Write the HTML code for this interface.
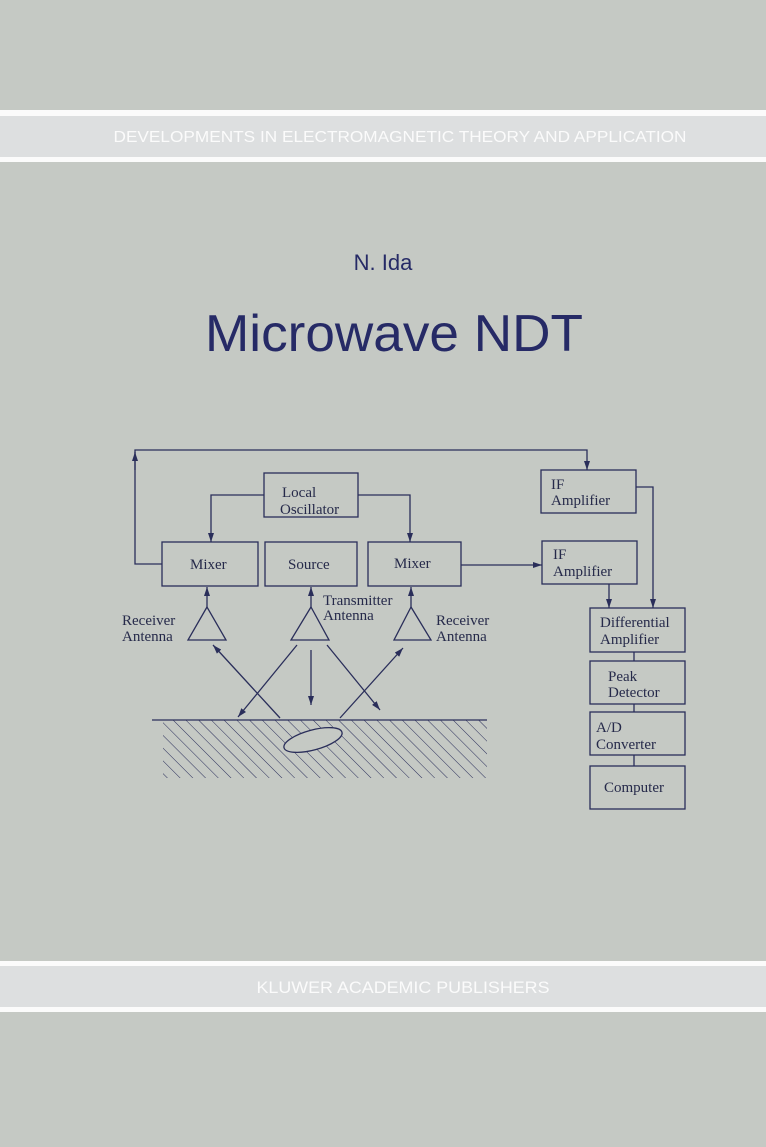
<!DOCTYPE html>
<html><head><meta charset="utf-8"><style>
html,body{margin:0;padding:0;background:#c5c9c4;}
svg{display:block}
</style></head><body>
<svg width="766" height="1147" viewBox="0 0 766 1147" xmlns="http://www.w3.org/2000/svg">
<defs>
<marker id="a" markerWidth="10" markerHeight="8" refX="9" refY="4" orient="auto" markerUnits="userSpaceOnUse"><path d="M0,1 L9,4 L0,7 z" fill="#2a2e5a"/></marker>
<pattern id="h" width="9" height="9" patternUnits="userSpaceOnUse" patternTransform="rotate(-45)"><line x1="0" y1="0" x2="0" y2="9" stroke="#2a2e5a" stroke-width="1"/></pattern>
<clipPath id="c"><rect x="163" y="720" width="324" height="58"/></clipPath>
</defs>
<rect width="766" height="1147" fill="#c5c9c4"/>
<rect x="0" y="110" width="766" height="52" fill="#fbfbfb"/>
<rect x="0" y="116" width="766" height="41" fill="#dddfe0"/>
<text x="400" y="142" font-family="Liberation Sans, sans-serif" font-size="16" fill="#fbfbfb" text-anchor="middle" textLength="573" lengthAdjust="spacingAndGlyphs">DEVELOPMENTS IN ELECTROMAGNETIC THEORY AND APPLICATION</text>
<rect x="0" y="961" width="766" height="51" fill="#fbfbfb"/>
<rect x="0" y="966" width="766" height="41" fill="#dddfe0"/>
<text x="403" y="993" font-family="Liberation Sans, sans-serif" font-size="17" fill="#fbfbfb" text-anchor="middle" textLength="293" lengthAdjust="spacingAndGlyphs">KLUWER ACADEMIC PUBLISHERS</text>
<text x="383" y="270" font-family="Liberation Sans, sans-serif" font-size="22" fill="#262a66" text-anchor="middle">N. Ida</text>
<text x="394" y="351" font-family="Liberation Sans, sans-serif" font-size="52" fill="#262a66" text-anchor="middle" textLength="378" lengthAdjust="spacingAndGlyphs">Microwave NDT</text>
<g stroke="#2a2e5a" stroke-width="1.3" fill="none">
<rect x="264" y="473" width="94" height="44"/>
<rect x="162" y="542" width="96" height="44"/>
<rect x="265" y="542" width="92" height="44"/>
<rect x="368" y="542" width="93" height="44"/>
<rect x="541" y="470" width="95" height="43"/>
<rect x="542" y="541" width="95" height="43"/>
<rect x="590" y="608" width="95" height="44"/>
<rect x="590" y="661" width="95" height="43"/>
<rect x="590" y="712" width="95" height="43"/>
<rect x="590" y="766" width="95" height="43"/>
<polyline points="162,564 135,564 135,450 587,450 587,470" marker-end="url(#a)"/>
<line x1="135" y1="470" x2="135" y2="452" marker-end="url(#a)"/>
<polyline points="264,495 211,495 211,542" marker-end="url(#a)"/>
<polyline points="358,495 410,495 410,542" marker-end="url(#a)"/>
<line x1="461" y1="565" x2="542" y2="565" marker-end="url(#a)"/>
<polyline points="636,487 653,487 653,608" marker-end="url(#a)"/>
<line x1="609" y1="584" x2="609" y2="608" marker-end="url(#a)"/>
<line x1="634" y1="652" x2="634" y2="661"/><line x1="634" y1="704" x2="634" y2="712"/><line x1="634" y1="755" x2="634" y2="766"/>
<polygon points="207,607 188,640 226,640"/>
<polygon points="311,607 291,640 329,640"/>
<polygon points="411,607 394,640 431,640"/>
<line x1="207" y1="607" x2="207" y2="587" marker-end="url(#a)"/>
<line x1="311" y1="607" x2="311" y2="587" marker-end="url(#a)"/>
<line x1="411" y1="607" x2="411" y2="587" marker-end="url(#a)"/>
<line x1="280" y1="718" x2="213" y2="645" marker-end="url(#a)"/>
<line x1="297" y1="645" x2="238" y2="717" marker-end="url(#a)"/>
<line x1="311" y1="650" x2="311" y2="705" marker-end="url(#a)"/>
<line x1="327" y1="645" x2="380" y2="710" marker-end="url(#a)"/>
<line x1="340" y1="718" x2="403" y2="648" marker-end="url(#a)"/>
<line x1="152" y1="720" x2="487" y2="720"/>
</g>
<rect x="163" y="720" width="324" height="58" fill="url(#h)" clip-path="url(#c)"/>
<ellipse cx="313" cy="740" rx="30" ry="10" transform="rotate(-15 313 740)" fill="#c5c9c4" stroke="#2a2e5a" stroke-width="1.3"/>
<g font-family="Liberation Serif, serif" font-size="15" fill="#262a4a">
<text x="282" y="497">Local</text><text x="280" y="514">Oscillator</text>
<text x="190" y="569">Mixer</text><text x="288" y="569">Source</text><text x="394" y="568">Mixer</text>
<text x="122" y="625">Receiver</text><text x="122" y="641">Antenna</text>
<text x="323" y="605">Transmitter</text><text x="323" y="620">Antenna</text>
<text x="436" y="625">Receiver</text><text x="436" y="641">Antenna</text>
<text x="551" y="489">IF</text><text x="551" y="505">Amplifier</text>
<text x="553" y="559">IF</text><text x="553" y="576">Amplifier</text>
<text x="600" y="627">Differential</text><text x="600" y="644">Amplifier</text>
<text x="608" y="681">Peak</text><text x="608" y="697">Detector</text>
<text x="596" y="732">A/D</text><text x="596" y="749">Converter</text>
<text x="604" y="792">Computer</text>
</g>
</svg>
</body></html>
